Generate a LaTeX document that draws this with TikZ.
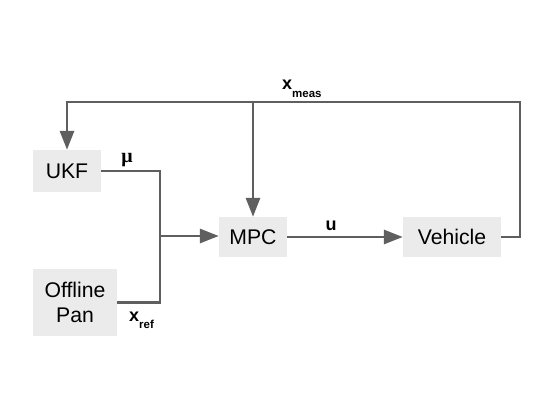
\documentclass[tikz,border=0pt]{standalone}
\usepackage{fontspec}
\setmainfont{Liberation Sans}
\newfontfamily\serifmu{Liberation Serif}
\usetikzlibrary{arrows.meta}
\definecolor{boxgray}{HTML}{EBEBEB}
\definecolor{linegray}{HTML}{5F5F5F}
\tikzset{
  blockbox/.style={fill=boxgray, inner sep=0pt, align=center, font=\fontsize{21.2}{25}\selectfont},
  conn/.style={draw=linegray, line width=2.9pt},
  arr/.style={conn, -{Triangle[length=19pt,width=14pt]}},
  lbl/.style={inner sep=0pt, font=\fontsize{18}{18}\selectfont\bfseries}
}
\begin{document}
\begin{tikzpicture}[x=1pt,y=-1pt]
\useasboundingbox (0,0) rectangle (540,417);
\node[blockbox, minimum width=68pt, minimum height=42pt] (ukf) at (67,171) {UKF};
\node[blockbox, minimum width=84pt, minimum height=67pt] (off) at (75,302.5) {Offline\\Pan};
\node[blockbox, minimum width=68pt, minimum height=40pt] (mpc) at (253,237) {MPC};
\node[blockbox, minimum width=98pt, minimum height=40pt] (veh) at (452,237) {Vehicle};
\coordinate (tr) at (520,102);
\coordinate (j) at (160,236);
\draw[arr] (veh.east) -| (tr) -| (ukf.north);
\draw[arr] (mpc.north |- tr) -- (mpc.north);
\draw[conn] (ukf.east) -| (j);
\draw[conn] (off.east) -| (j);
\draw[arr] (j) -- (mpc.west |- j);
\draw[arr] (mpc.east) -- (veh.west);
\node[lbl, font=\fontsize{20}{20}\selectfont\serifmu\bfseries] (mu) at (127,160) {μ};
\node[lbl] (u) at (331,226) {u};
\node[lbl, anchor=base west] (xmeas) at (282,90) {x\raisebox{-8pt}{\fontsize{11.5}{12}\selectfont meas}};
\node[lbl, anchor=base west] (xref) at (129,321) {x\raisebox{-7pt}{\fontsize{11.5}{12}\selectfont ref}};
\end{tikzpicture}
\end{document}
